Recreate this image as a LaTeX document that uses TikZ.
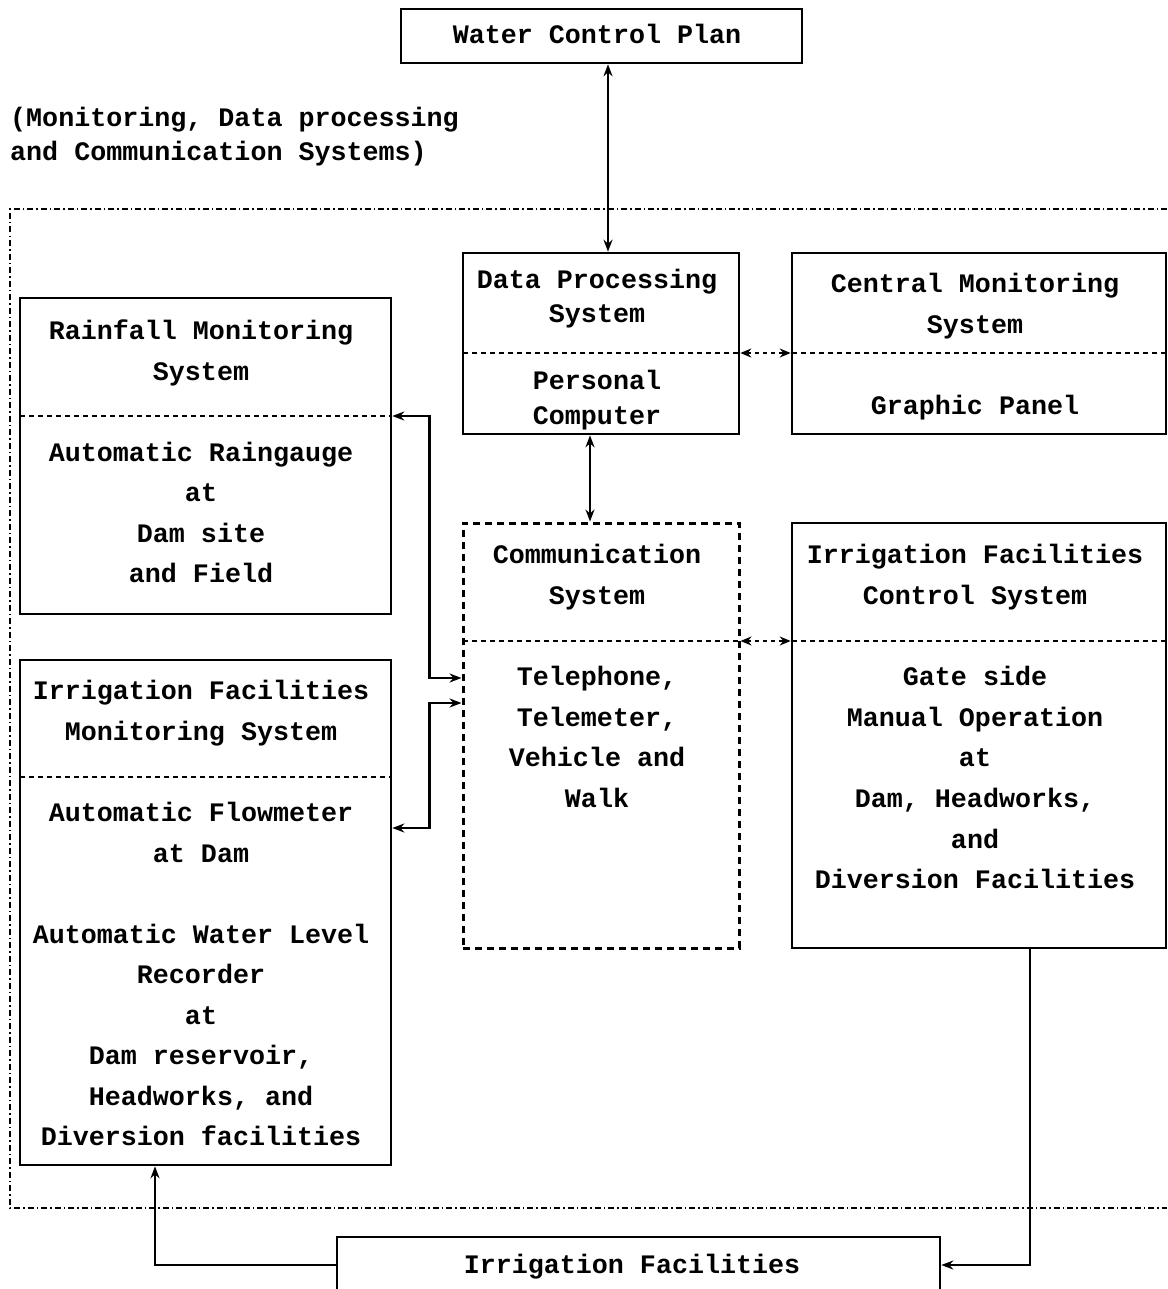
\documentclass[tikz,border=0pt]{standalone}
\usepackage{fontspec}
\setmonofont{Liberation Mono}
\usetikzlibrary{arrows.meta}
\begin{document}
\begin{tikzpicture}[x=1pt,y=-1pt,
  box/.style={draw, line width=2.6pt, inner sep=0pt},
  dbox/.style={draw, line width=3pt, dash pattern=on 7pt off 5pt, inner sep=0pt},
  div/.style={line width=1.6pt, dash pattern=on 5pt off 4pt},
  frameline/.style={line width=1.6pt, dash pattern=on 6pt off 3pt on 1.5pt off 3pt},
  txt/.style={font=\ttfamily\bfseries\fontsize{26.7}{40}\selectfont, inner sep=0pt, text height=15pt, text depth=5pt},
  lbl/.style={txt, anchor=west},
  arr/.style={line width=2.4pt, -{Stealth[length=12pt,width=9pt]}},
  darr/.style={line width=2.4pt, {Stealth[length=12pt,width=9pt]}-{Stealth[length=12pt,width=9pt]}},
  ddarr/.style={line width=1.6pt, dash pattern=on 4pt off 4pt, {Stealth[length=11pt,width=9pt]}-{Stealth[length=11pt,width=9pt]}}
]
\useasboundingbox (0,0) rectangle (1167,1289);
\clip (0,0) rectangle (1167,1289);

% outer dash-dot frame
\draw[frameline] (1167,209) -- (10,209) -- (10,1208) -- (1167,1208);

% boxes
\node[box, minimum width=401pt, minimum height=54pt] (wcp) at (601.5,36) {};
\node[box, minimum width=276pt, minimum height=181pt] (dp) at (601,343.5) {};
\node[box, minimum width=374pt, minimum height=181pt] (cm) at (979,343.5) {};
\node[box, minimum width=371pt, minimum height=316pt] (rf) at (205.5,456) {};
\node[box, minimum width=371pt, minimum height=505pt] (ifm) at (205.5,912.5) {};
\node[dbox, minimum width=276pt, minimum height=425pt] (cs) at (601,735.5) {};
\node[box, minimum width=374pt, minimum height=425pt] (ifc) at (979,735.5) {};
\node[box, minimum width=603pt, minimum height=83pt] (irf) at (638.5,1278.5) {};

% dividers
\draw[div] (463,353) -- (739,353);
\draw[div] (792,353) -- (1166,353);
\draw[div] (20,416) -- (391,416);
\draw[div] (20,777) -- (391,777);
\draw[div] (463,641) -- (739,641);
\draw[div] (792,641) -- (1166,641);

% texts
\node[lbl] (l1) at (10,122) {(Monitoring, Data processing};
\node[lbl] (l2) at (10,156) {and Communication Systems)};

\node[txt] (t0) at (597,39) {Water Control Plan};

\node[txt] (dp1) at (597,283) {Data Processing};
\node[txt] (dp2) at (597,317) {System};
\node[txt] (dp3) at (597,384) {Personal};
\node[txt] (dp4) at (597,419) {Computer};

\node[txt] (cm1) at (975,287) {Central Monitoring};
\node[txt] (cm2) at (975,328) {System};
\node[txt] (cm3) at (975,409) {Graphic Panel};

\node[txt] (rf1) at (201,334) {Rainfall Monitoring};
\node[txt] (rf2) at (201,375) {System};
\node[txt] (rf3) at (201,456) {Automatic Raingauge};
\node[txt] (rf4) at (201,496) {at};
\node[txt] (rf5) at (201,537) {Dam site};
\node[txt] (rf6) at (201,577) {and Field};

\node[txt] (ifm1) at (201,694) {Irrigation Facilities};
\node[txt] (ifm2) at (201,735) {Monitoring System};
\node[txt] (ifm3) at (201,816) {Automatic Flowmeter};
\node[txt] (ifm4) at (201,857) {at Dam};
\node[txt] (ifm5) at (201,938) {Automatic Water Level};
\node[txt] (ifm6) at (201,978) {Recorder};
\node[txt] (ifm7) at (201,1019) {at};
\node[txt] (ifm8) at (201,1059) {Dam reservoir,};
\node[txt] (ifm9) at (201,1100) {Headworks, and};
\node[txt] (ifm10) at (201,1140) {Diversion facilities};

\node[txt] (cs1) at (597,558) {Communication};
\node[txt] (cs2) at (597,599) {System};
\node[txt] (cs3) at (597,680) {Telephone,};
\node[txt] (cs4) at (597,721) {Telemeter,};
\node[txt] (cs5) at (597,761) {Vehicle and};
\node[txt] (cs6) at (597,802) {Walk};

\node[txt] (ifc1) at (975,558) {Irrigation Facilities};
\node[txt] (ifc2) at (975,599) {Control System};
\node[txt] (ifc3) at (975,680) {Gate side};
\node[txt] (ifc4) at (975,721) {Manual Operation};
\node[txt] (ifc5) at (975,761) {at};
\node[txt] (ifc6) at (975,802) {Dam, Headworks,};
\node[txt] (ifc7) at (975,843) {and};
\node[txt] (ifc8) at (975,883) {Diversion Facilities};

\node[txt] (irf1) at (632,1268) {Irrigation Facilities};

% connectors
\draw[darr] ([xshift=6.5pt]wcp.south) -- ([xshift=7pt]dp.north);
\draw[darr] ([xshift=-11pt]dp.south) -- ([xshift=-11pt]cs.north);
\draw[ddarr] ([yshift=-9.5pt]dp.east) -- ([yshift=-9.5pt]cm.west);
\draw[ddarr] ([yshift=94.5pt]cs.east) -- ([yshift=94.5pt]ifc.west);
\draw[darr] ([yshift=40pt]rf.east) -- ++(37,0) |- ([yshift=57.5pt]cs.west);
\draw[darr] ([yshift=84.5pt]ifm.east) -- ++(37,0) |- ([yshift=32.5pt]cs.west);
\draw[arr] ([yshift=13.5pt]irf.west) -| ([xshift=-50.5pt]ifm.south);
\draw[arr] ([xshift=51pt]ifc.south) |- ([yshift=13.5pt]irf.east);
\end{tikzpicture}
\end{document}
